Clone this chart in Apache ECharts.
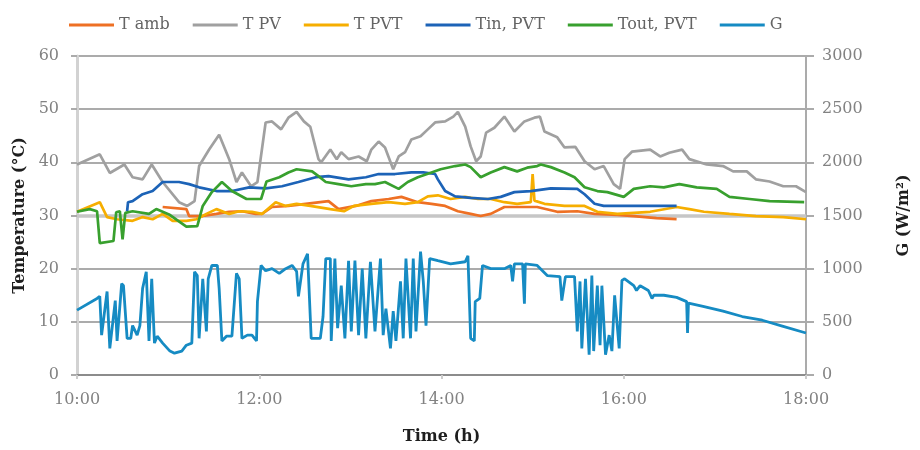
<!DOCTYPE html>
<html><head><meta charset="utf-8">
<script src="https://cdn.jsdelivr.net/npm/echarts@6/dist/echarts.min.js"></script>
<style>html,body{margin:0;padding:0;background:#fff;overflow:hidden}#c{width:920px;height:450px}</style>
</head><body><div id="c"></div>
<script>
// Series names (legend order)
const seriesNames = ['T amb', 'T PV', 'T PVT', 'Tin, PVT', 'Tout, PVT', 'G'];

// [time in decimal hours, temperature °C]
const tAmb = [[10.94,31.6],[11.20,31.2],[11.23,29.9],[11.38,29.9],[11.53,30.3],[11.67,30.7],[11.81,30.8],[11.96,30.3],[12.03,30.3],[12.14,31.6],[12.32,31.8],[12.51,32.2],[12.76,32.7],[12.87,31.2],[13.06,31.8],[13.23,32.7],[13.42,33.1],[13.56,33.5],[13.74,32.5],[13.89,32.2],[14.04,31.8],[14.18,30.8],[14.32,30.3],[14.43,29.9],[14.54,30.3],[14.69,31.6],[14.91,31.6],[15.05,31.6],[15.27,30.7],[15.49,30.8],[15.68,30.3],[15.93,30.1],[16.11,29.9],[16.36,29.5],[16.58,29.3]];

const tPV = [[10.00,39.6],[10.25,41.5],[10.36,38.0],[10.52,39.6],[10.61,37.2],[10.72,36.8],[10.82,39.6],[10.94,36.3],[11.12,32.5],[11.21,31.8],[11.29,32.7],[11.34,39.3],[11.45,42.4],[11.56,45.2],[11.67,40.6],[11.75,36.3],[11.81,38.1],[11.91,35.5],[11.98,36.3],[12.07,47.5],[12.14,47.7],[12.24,46.2],[12.32,48.4],[12.41,49.5],[12.49,47.7],[12.56,46.7],[12.65,40.6],[12.68,40.0],[12.78,42.4],[12.85,40.6],[12.90,41.9],[12.98,40.6],[13.09,41.1],[13.18,40.2],[13.23,42.4],[13.31,43.9],[13.38,42.8],[13.47,38.7],[13.53,41.1],[13.60,41.9],[13.67,44.3],[13.77,44.9],[13.85,46.2],[13.93,47.5],[14.04,47.7],[14.13,48.6],[14.18,49.5],[14.26,46.7],[14.32,43.0],[14.38,40.2],[14.43,41.1],[14.49,45.6],[14.58,46.5],[14.69,48.6],[14.80,45.8],[14.91,47.7],[15.02,48.4],[15.08,48.6],[15.13,45.8],[15.27,44.7],[15.35,42.8],[15.47,42.9],[15.57,40.2],[15.68,38.7],[15.78,39.3],[15.89,35.9],[15.96,35.0],[16.01,40.6],[16.09,42.0],[16.29,42.4],[16.40,41.1],[16.50,41.8],[16.64,42.4],[16.72,40.6],[16.91,39.6],[17.09,39.3],[17.20,38.3],[17.35,38.3],[17.45,36.8],[17.60,36.4],[17.75,35.5],[17.89,35.5],[18.00,34.4]];

const tPVT = [[10.00,30.7],[10.25,32.5],[10.33,29.7],[10.44,29.3],[10.61,29.0],[10.72,29.7],[10.83,29.3],[10.94,30.3],[11.05,29.0],[11.20,29.0],[11.31,29.3],[11.42,30.3],[11.53,31.2],[11.67,30.3],[11.78,30.8],[11.92,30.7],[12.03,30.3],[12.18,32.5],[12.29,31.8],[12.41,32.2],[12.56,31.8],[12.78,31.2],[12.93,30.8],[13.04,31.8],[13.23,32.2],[13.42,32.5],[13.60,32.2],[13.74,32.5],[13.85,33.6],[13.96,33.8],[14.10,33.1],[14.26,33.5],[14.40,33.1],[14.54,33.1],[14.69,32.5],[14.83,32.2],[14.98,32.5],[14.99,32.6],[15.00,37.8],[15.02,32.8],[15.13,32.2],[15.35,31.8],[15.57,31.8],[15.71,30.7],[15.93,30.3],[16.29,30.7],[16.58,31.6],[16.72,31.2],[16.88,30.7],[17.16,30.3],[17.45,29.9],[17.75,29.7],[18.00,29.3]];

const tIn = [[10.55,30.8],[10.56,32.5],[10.61,32.7],[10.72,34.0],[10.83,34.6],[10.94,36.3],[11.12,36.3],[11.23,35.9],[11.34,35.3],[11.53,34.6],[11.70,34.6],[11.89,35.3],[12.07,35.1],[12.25,35.5],[12.43,36.3],[12.62,37.2],[12.76,37.4],[12.98,36.8],[13.17,37.2],[13.31,37.8],[13.49,37.8],[13.67,38.1],[13.80,38.1],[13.93,37.8],[13.96,36.8],[14.04,34.6],[14.15,33.6],[14.32,33.3],[14.51,33.1],[14.65,33.5],[14.80,34.4],[14.98,34.6],[15.20,35.1],[15.49,35.0],[15.57,34.0],[15.68,32.2],[15.78,31.8],[16.11,31.8],[16.58,31.8]];

const tOut = [[10.00,30.7],[10.14,31.2],[10.22,30.8],[10.25,24.8],[10.40,25.2],[10.43,30.6],[10.47,30.8],[10.50,25.5],[10.53,30.5],[10.61,30.8],[10.79,30.3],[10.87,31.2],[11.01,30.2],[11.20,27.9],[11.32,28.0],[11.38,31.8],[11.48,34.4],[11.59,36.3],[11.70,34.6],[11.86,33.1],[12.02,33.1],[12.08,36.4],[12.22,37.2],[12.32,38.1],[12.41,38.7],[12.58,38.3],[12.65,37.4],[12.73,36.3],[12.87,35.9],[13.01,35.5],[13.17,35.9],[13.27,35.9],[13.38,36.3],[13.53,35.0],[13.63,36.3],[13.74,37.2],[13.89,38.1],[13.99,38.7],[14.15,39.3],[14.26,39.6],[14.32,39.1],[14.43,37.2],[14.54,38.1],[14.69,39.1],[14.83,38.3],[14.94,39.0],[15.05,39.3],[15.09,39.6],[15.20,39.1],[15.35,38.1],[15.46,37.2],[15.57,35.3],[15.71,34.6],[15.82,34.4],[16.00,33.5],[16.11,35.0],[16.29,35.5],[16.44,35.3],[16.61,35.9],[16.80,35.3],[17.02,35.0],[17.16,33.5],[17.38,33.1],[17.60,32.7],[17.98,32.5]];

// [time in decimal hours, irradiance W/m²]
const gIrr = [[10.00,610],[10.22,720],[10.25,740],[10.27,375],[10.33,785],[10.36,250],[10.42,700],[10.44,320],[10.49,860],[10.51,840],[10.55,345],[10.59,345],[10.61,465],[10.66,375],[10.69,465],[10.72,815],[10.76,970],[10.79,320],[10.82,905],[10.85,300],[10.88,365],[10.94,300],[11.02,225],[11.07,205],[11.15,225],[11.20,280],[11.26,300],[11.29,970],[11.32,935],[11.34,345],[11.38,905],[11.40,905],[11.42,410],[11.44,905],[11.48,1030],[11.54,1030],[11.56,815],[11.59,320],[11.64,365],[11.70,365],[11.75,955],[11.78,905],[11.81,345],[11.87,375],[11.92,375],[11.97,320],[11.98,690],[12.02,1030],[12.07,980],[12.14,1000],[12.22,955],[12.29,1000],[12.36,1030],[12.41,975],[12.43,740],[12.48,1045],[12.53,1140],[12.57,345],[12.67,345],[12.70,550],[12.73,1095],[12.78,1095],[12.79,320],[12.83,1095],[12.86,440],[12.90,840],[12.94,345],[12.98,1075],[13.01,410],[13.05,1075],[13.09,375],[13.13,1000],[13.17,345],[13.22,1065],[13.27,410],[13.33,1095],[13.36,375],[13.39,625],[13.44,250],[13.47,600],[13.50,320],[13.55,880],[13.58,345],[13.61,1095],[13.66,345],[13.69,1095],[13.72,410],[13.77,1160],[13.80,880],[13.83,465],[13.87,1095],[13.96,1075],[14.10,1045],[14.26,1065],[14.29,1120],[14.32,345],[14.36,320],[14.37,690],[14.42,720],[14.45,1030],[14.54,1000],[14.69,1000],[14.76,1030],[14.78,880],[14.80,1045],[14.89,1045],[14.91,670],[14.92,1045],[15.05,1030],[15.16,935],[15.30,925],[15.32,700],[15.36,925],[15.46,925],[15.49,410],[15.52,880],[15.54,250],[15.58,905],[15.62,190],[15.65,935],[15.67,225],[15.71,840],[15.74,280],[15.76,840],[15.80,190],[15.84,375],[15.87,225],[15.90,750],[15.95,250],[15.98,890],[16.01,905],[16.11,840],[16.14,795],[16.18,840],[16.27,795],[16.31,720],[16.33,750],[16.44,750],[16.58,730],[16.69,690],[16.70,395],[16.71,675],[16.87,645],[17.09,600],[17.30,550],[17.52,515],[17.74,460],[18.00,395]];

// Axis ticks
const tempTicks = [0, 10, 20, 30, 40, 50, 60];
const gTicks = [0, 500, 1000, 1500, 2000, 2500, 3000];
const timeTicks = [10, 12, 14, 16, 18];
const refTemp = 30;

const colors = ['#EE7024', '#A0A0A0', '#F6AE00', '#1C63B7', '#38A02E', '#168BC3'];
const serif = 'DejaVu Serif';
const labelStyle = { fontFamily: serif, fontSize: 16, color: '#828282' };
const nameStyle = { fontFamily: serif, fontSize: 16, fontWeight: 'bold', color: '#1e1e1e' };

const chart = echarts.init(document.getElementById('c'), null, { renderer: 'canvas' });

const datasets = [tAmb, tPV, tPVT, tIn, tOut, gIrr];
const series = datasets.map((d, i) => ({
  name: seriesNames[i],
  type: 'line',
  data: d,
  yAxisIndex: i === 5 ? 1 : 0,
  showSymbol: false,
  symbol: 'none',
  lineStyle: { width: i === 5 ? 2.8 : 2.7, color: colors[i] },
  itemStyle: { color: colors[i] },
  z: i === 5 ? 3 : 4
}));
series[0].markLine = {
  silent: true, symbol: 'none', label: { show: false },
  lineStyle: { color: '#c6c6c6', width: 3.5, type: 'solid' },
  data: [{ yAxis: refTemp }],
  z: 1
};

chart.setOption({
  animation: false,
  backgroundColor: '#fff',
  color: colors,
  grid: { left: 77, right: 107, top: 56, bottom: 73 },
  legend: {
    data: seriesNames,
    top: 12, left: 64,
    icon: 'rect', itemWidth: 45, itemHeight: 3, itemGap: 23,
    textStyle: { fontFamily: serif, fontSize: 16, color: '#646464' }
  },
  xAxis: {
    type: 'value', min: timeTicks[0], max: timeTicks[timeTicks.length - 1], interval: 2,
    name: 'Time (h)', nameLocation: 'middle', nameGap: 54, nameTextStyle: nameStyle,
    axisLine: { show: true, onZero: false, lineStyle: { color: '#8c8c8c', width: 2 } },
    axisTick: { show: true, length: 4, lineStyle: { color: '#cccccc', width: 2 } },
    axisLabel: Object.assign({ margin: 17, formatter: v => (v < 10 ? '0' : '') + v + ':00' }, labelStyle),
    splitLine: { show: false }
  },
  yAxis: [
    {
      type: 'value', min: tempTicks[0], max: tempTicks[tempTicks.length - 1], interval: 10,
      name: 'Temperature (°C)', nameLocation: 'middle', nameGap: 45, nameTextStyle: nameStyle,
      axisLine: { show: true, lineStyle: { color: '#d2d2d2', width: 3 } },
      axisTick: { show: true, length: 6, lineStyle: { color: '#ababab', width: 2 } },
      axisLabel: Object.assign({ margin: 18 }, labelStyle),
      splitLine: { show: true, lineStyle: { color: '#ababab', width: 2 } }
    },
    {
      type: 'value', min: gTicks[0], max: gTicks[gTicks.length - 1], interval: 500,
      name: 'G (W/m²)', nameLocation: 'middle', nameGap: 90, nameRotate: 90, nameTextStyle: nameStyle,
      position: 'right',
      axisLine: { show: true, lineStyle: { color: '#ababab', width: 2 } },
      axisTick: { show: true, length: 8, lineStyle: { color: '#ababab', width: 2 } },
      axisLabel: Object.assign({ margin: 16, formatter: v => String(v) }, labelStyle),
      splitLine: { show: false }
    }
  ],
  series: series
});
</script>
</body></html>
